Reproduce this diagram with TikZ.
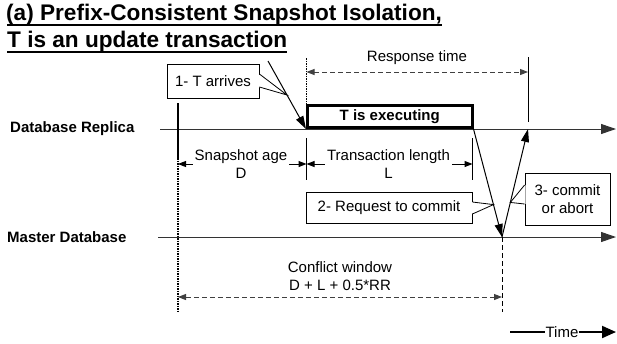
\documentclass[tikz,border=0pt]{standalone}
\usepackage{fontspec}
\setmainfont{Liberation Sans}
\usetikzlibrary{calc,positioning,arrows.meta}
\tikzset{
  >={Triangle[length=8pt,width=6pt]},
  axisline/.style={draw=black!80, line width=1pt, -{Triangle[length=15pt,width=10pt]}},
  dotline/.style={draw, line width=1.6pt, dash pattern=on 1.5pt off 1pt},
  tick/.style={draw, line width=1pt},
}

\begin{document}
\begin{tikzpicture}[x=1pt,y=-1pt]
  \tikzset{
      every node/.style={font=\fontsize{15}{18}\selectfont, inner sep=0pt},
      titletext/.style={anchor=base west, font=\fontsize{22.6}{23}\selectfont\bfseries},
      linelabel/.style={anchor=west, font=\fontsize{15}{18}\selectfont\bfseries},
      execbox/.style={rectangle, draw=black, line width=3pt, font=\fontsize{15}{18}\selectfont\bfseries, text centered},
      callbox/.style={rectangle, draw=black, line width=0.8pt, fill=white, align=center},
      dimtext/.style={align=center, inner xsep=2pt},
      myarrow/.style={draw, line width=1pt, -{Triangle[length=13pt,width=8pt]}},
      dimarrow/.style={draw, line width=1pt, ->},
      spanarrow/.style={draw=black!75, line width=1pt, dash pattern=on 5pt off 3pt, <->},
  }
  \useasboundingbox (0,0) rectangle (617,343);

  \node[titletext] (title1) at (6,20) {(a) Prefix-Consistent Snapshot Isolation,};
  \node[titletext] (title2) at (7,47) {T is an update transaction};
  \draw[line width=1.6pt] ($(title1.base west)+(1,5)$) -- ($(title1.base east)+(0,5)$);
  \draw[line width=1.6pt] ($(title2.base west)+(0,5)$) -- ($(title2.base east)+(0,5)$);

  \node[linelabel] (item1) at (10,129) {Database Replica};
  \node[linelabel] (item2) at (7,237) {Master Database};

  \coordinate (AuxNode01) at (160,129);
  \coordinate (AuxNode02) at (616,129);
  \coordinate (AuxNode03) at (158,237);
  \coordinate (AuxNode04) at (616,237);
  \coordinate (AuxNode05) at (502,237);
  \coordinate (AuxNode06) at (528,129);
  \coordinate (AuxNode07) at (178,103);
  \coordinate (AuxNode08) at (178,158);
  \coordinate (AuxNode09) at (178,313);
  \coordinate (AuxNode10) at (306.5,58);
  \coordinate (AuxNode11) at (528,57);
  \coordinate (AuxNode12) at (528,122);
  \coordinate (AuxNode13) at (306.5,138);
  \coordinate (AuxNode14) at (306.5,180);
  \coordinate (AuxNode15) at (472.5,138);
  \coordinate (AuxNode16) at (472.5,180);
  \coordinate (AuxNode17) at (502,312);
  \coordinate (AuxNode18) at (268,61);
  \coordinate (AuxNode19) at (510,332);
  \coordinate (AuxNode20) at (616,332);

  \path[axisline] (AuxNode01) -- (AuxNode02);
  \path[axisline] (AuxNode03) -- (AuxNode04);

  \node[execbox, minimum width=164.5pt, minimum height=22pt] (item3) at (389.75,116.5) {T is executing};

  \path[draw, line width=2pt] (AuxNode07) -- (AuxNode08);
  \path[dotline] (AuxNode08) -- (AuxNode09);
  \path[dotline, line width=1.4pt] (AuxNode10) -- (AuxNode10 |- item3.north);
  \path[draw, line width=1pt] (AuxNode11) -- (AuxNode12);
  \path[draw, line width=1pt, dash pattern=on 5pt off 3pt] (AuxNode05) -- (AuxNode17);
  \path[tick] (AuxNode13) -- (AuxNode14);
  \path[tick] (AuxNode15) -- (AuxNode16);

  \node (item4) at (417,58) {Response time};
  \path[spanarrow] ($(AuxNode10)+(0,14)$) -- ($(AuxNode11)+(0,15)$);

  \node[dimtext] (item5) at (241,164) {Snapshot age\\D};
  \node[dimtext] (item6) at (388.5,164) {Transaction length\\L};
    \path[dimarrow] (item5.west) -- (item5.west -| AuxNode08);
    \path[dimarrow] (item5.east) -- (item5.east -| AuxNode13);
    \path[dimarrow] (item6.west) -- (item6.west -| AuxNode13);
    \path[dimarrow] (item6.east) -- (item6.east -| AuxNode15);

  \node[dimtext] (item10) at (340,276) {Conflict window\\D + L + 0.5*RR};
  \path[spanarrow] ($(AuxNode09)+(0,-16)$) -- ($(AuxNode17)+(0,-15)$);

  \node[callbox, minimum width=92pt, minimum height=34pt] (item7) at (213,81) {1- T arrives};
  \node[callbox, minimum width=166pt, minimum height=31pt] (item8) at (389,207.5) {2- Request to commit};
  \node[callbox, minimum width=85pt, minimum height=52pt] (item9) at (567.5,199) {3- commit\\or abort};

  \coordinate (AuxNode21) at ($(AuxNode18)!0.5!(item3.south west)$);
  \coordinate (AuxNode22) at ($(item3.south east)!0.7!(AuxNode05)$);
  \coordinate (AuxNode23) at ($(AuxNode05)!0.32!(AuxNode06)$);

  \path[fill=white] ([yshift=7pt,xshift=-1pt]item7.east) -- (AuxNode21) -- ([yshift=-6pt,xshift=-1pt]item7.east) -- cycle;
  \path[draw, line width=0.8pt] ([yshift=7pt]item7.east) -- (AuxNode21) -- ([yshift=-6pt]item7.east);
  \path[fill=white] ([yshift=5.5pt,xshift=-1pt]item8.east) -- (AuxNode22) -- ([yshift=-6.5pt,xshift=-1pt]item8.east) -- cycle;
  \path[draw, line width=0.8pt] ([yshift=5.5pt]item8.east) -- (AuxNode22) -- ([yshift=-6.5pt]item8.east);
  \path[fill=white] ([yshift=14pt,xshift=1pt]item9.west) -- (AuxNode23) -- ([yshift=-5pt,xshift=1pt]item9.west) -- cycle;
  \path[draw, line width=0.8pt] ([yshift=14pt]item9.west) -- (AuxNode23) -- ([yshift=-5pt]item9.west);

  \path[myarrow] (AuxNode18) -- (item3.south west);
  \path[myarrow] (item3.south east) -- (AuxNode05);
  \path[myarrow] (AuxNode05) -- (AuxNode06);

  \node (item11) at (562,332) {Time};
  \path[draw, line width=2pt] (AuxNode19) -- (item11.west);
  \path[draw, line width=2pt, -{Triangle[length=14pt,width=12pt]}] (item11.east) -- (AuxNode20);
\end{tikzpicture}
\end{document}
